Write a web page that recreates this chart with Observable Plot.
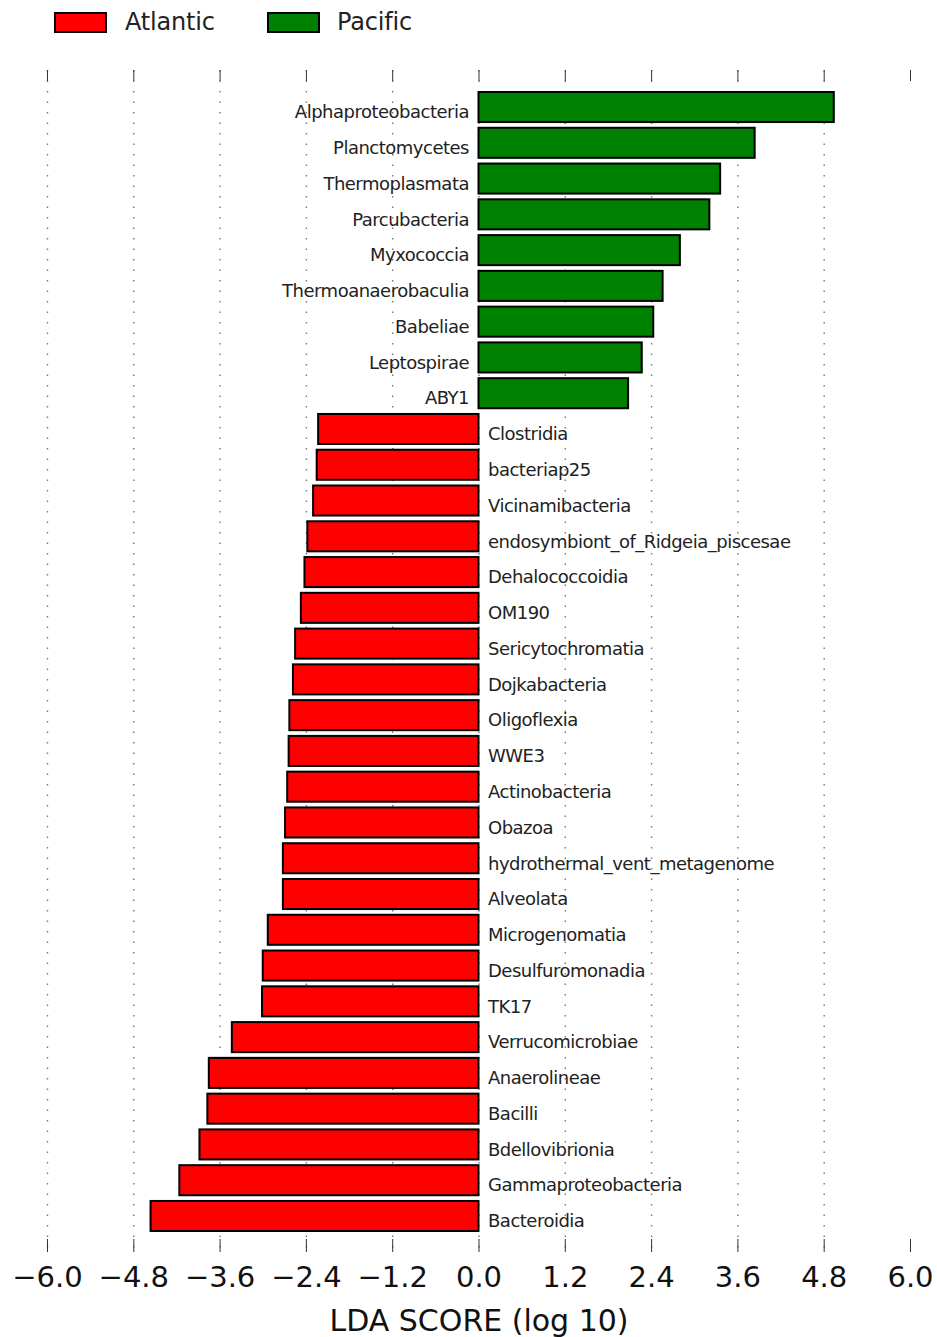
<!DOCTYPE html>
<html>
<head>
<meta charset="utf-8">
<script src="https://cdn.jsdelivr.net/npm/d3@7"></script>
<script src="https://cdn.jsdelivr.net/npm/@observablehq/plot@0.6"></script>
<style>
  html, body { margin: 0; padding: 0; background: #fff; }
  #wrap { width: 937px; height: 1337px; position: relative; font-family: "DejaVu Sans", sans-serif; }
  #legend { position: relative; height: 50px; }
  .sw { position: absolute; top: 12px; width: 49px; height: 17px; border: 2px solid #000; }
  .lt { position: absolute; top: 6px; font-size: 24px; color: #222; line-height: 32px; letter-spacing: -0.2px; }
  svg { display: block; }
</style>
</head>
<body>
<div id="wrap">
  <div id="legend"></div>
  <div id="chart"></div>
</div>
<script>
const categories = [
  "Alphaproteobacteria","Planctomycetes","Thermoplasmata","Parcubacteria","Myxococcia",
  "Thermoanaerobaculia","Babeliae","Leptospirae","ABY1",
  "Clostridia","bacteriap25","Vicinamibacteria","endosymbiont_of_Ridgeia_piscesae","Dehalococcoidia",
  "OM190","Sericytochromatia","Dojkabacteria","Oligoflexia","WWE3","Actinobacteria","Obazoa",
  "hydrothermal_vent_metagenome","Alveolata","Microgenomatia","Desulfuromonadia","TK17",
  "Verrucomicrobiae","Anaerolineae","Bacilli","Bdellovibrionia","Gammaproteobacteria","Bacteroidia"
];
const ldaScores = [
  4.94, 3.84, 3.36, 3.21, 2.80, 2.56, 2.43, 2.27, 2.08,
  -2.23, -2.25, -2.30, -2.38, -2.42, -2.47, -2.55, -2.58, -2.63, -2.64, -2.66, -2.69,
  -2.72, -2.72, -2.93, -3.00, -3.01, -3.43, -3.75, -3.77, -3.88, -4.16, -4.56
];
const groups = ["Atlantic", "Pacific"];
const groupColors = ["#ff0000", "#008000"];
const xTicks = [-6.0, -4.8, -3.6, -2.4, -1.2, 0.0, 1.2, 2.4, 3.6, 4.8, 6.0];
const axisTitle = "LDA SCORE (log 10)";

const data = categories.map((name, i) => ({
  name, value: ldaScores[i], group: ldaScores[i] < 0 ? groups[0] : groups[1]
}));
const pos = data.filter(d => d.value >= 0);
const neg = data.filter(d => d.value < 0);

// legend
const legend = document.getElementById("legend");
const legendX = [[54, 125], [267, 337]];
groups.forEach((g, i) => {
  const sw = document.createElement("div");
  sw.className = "sw";
  sw.style.left = legendX[i][0] + "px";
  sw.style.background = groupColors[i];
  legend.appendChild(sw);
  const t = document.createElement("div");
  t.className = "lt";
  t.style.left = legendX[i][1] + "px";
  t.textContent = g;
  legend.appendChild(t);
});

const H = 1287, MT = 20, MB = 85;
const frameH = H - MT - MB;
const fmt = d3.format(".1f");

const chart = Plot.plot({
  width: 937,
  height: H,
  marginTop: MT,
  marginBottom: MB,
  marginLeft: 47,
  marginRight: 27,
  style: { fontFamily: "DejaVu Sans, sans-serif", background: "#fff", color: "#111" },
  x: { domain: [-6, 6], axis: null },
  y: { domain: categories, paddingInner: 0.16, paddingOuter: 0, insetTop: 22, insetBottom: 21, round: false, axis: null },
  color: { domain: groups, range: groupColors },
  marks: [
    Plot.gridX(xTicks.filter(d => d < 6), { stroke: "#777", strokeOpacity: 1, strokeWidth: 1.4, strokeDasharray: "1.5,9" }),
    Plot.ruleX(xTicks, { stroke: "#333", strokeWidth: 1, insetBottom: frameH - 11 }),
    Plot.ruleX(xTicks, { stroke: "#333", strokeWidth: 1, insetTop: frameH - 13 }),
    Plot.barX(data, { x: "value", y: "name", fill: "group", stroke: "#000", strokeWidth: 2 }),
    Plot.text(pos, { x: 0, y: "name", text: "name", textAnchor: "end", dx: -10, dy: 5, fontSize: 18, fill: "#222", lineAnchor: "middle" }),
    Plot.text(neg, { x: 0, y: "name", text: "name", textAnchor: "start", dx: 9, dy: 5, fontSize: 18, fill: "#222", lineAnchor: "middle" }),
    Plot.axisX(xTicks, { anchor: "bottom", tickSize: 0, tickPadding: 14, tickFormat: fmt, fontSize: 29, label: null, fill: "#111" }),
    Plot.text([axisTitle], { frameAnchor: "bottom", text: d => d, dy: 69, fontSize: 30, lineAnchor: "middle", fill: "#111" })
  ]
});
document.getElementById("chart").appendChild(chart);
// slightly condensed bar labels like the reference
chart.querySelectorAll("g[aria-label='text'] text").forEach(t => {
  if (t.textContent !== axisTitle) t.style.letterSpacing = "-0.5px";
});
</script>
</body>
</html>
